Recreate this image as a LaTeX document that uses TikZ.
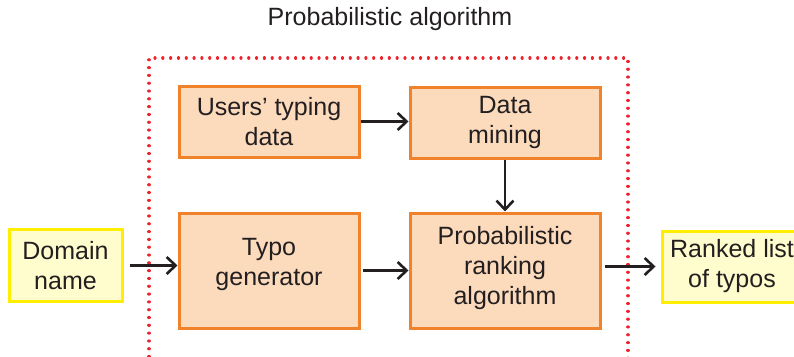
\documentclass[tikz,border=0pt]{standalone}
\usepackage{fontspec}
\setmainfont{Liberation Sans}
\usetikzlibrary{arrows.meta}
\definecolor{boxfill}{RGB}{252,218,188}
\definecolor{boxline}{RGB}{241,130,44}
\definecolor{iofill}{RGB}{255,252,206}
\definecolor{ioline}{RGB}{255,238,0}
\definecolor{dotred}{RGB}{238,34,44}
\definecolor{ink}{RGB}{35,31,32}
\tikzset{
  procbox/.style={draw=boxline, fill=boxfill, line width=3pt, inner sep=0pt,
    align=center, font=\fontsize{25}{30}\selectfont, text=ink},
  iobox/.style={draw=ioline, fill=iofill, line width=3pt, inner sep=0pt,
    align=center, font=\fontsize{25}{30}\selectfont, text=ink},
  flow/.style={draw=ink, line width=2.6pt, -{Straight Barb[length=9pt,width=17pt,line width=2.6pt]}},
}
\begin{document}
\begin{tikzpicture}[x=1pt,y=-1pt]
\useasboundingbox (0,0) rectangle (794,356);
\clip (0,0) rectangle (794,356);

% title and the dotted frame of the probabilistic part
\node[font=\fontsize{25}{30}\selectfont, text=ink] (title) at (390,19) {Probabilistic algorithm};
\draw[dotred, line width=3.2pt, line cap=round, dash pattern=on 0.01pt off 7.8pt]
  (149,380) -- (149,58) -- (628,58) -- (628,380);

% process boxes
\node[procbox, minimum width=180pt, minimum height=71pt] (users) at (269,121.5) {Users’ typing\\data};
\node[procbox, minimum width=190pt, minimum height=71pt] (mining) at (505,122.5) {Data\\mining};
\node[procbox, minimum width=180pt, minimum height=115pt, text depth=18pt] (typo) at (269,270.5) {Typo\\generator};
\node[procbox, minimum width=190pt, minimum height=115pt, text depth=11pt] (rank) at (505,270.5) {Probabilistic\\ranking\\algorithm};

% input and output
\node[iobox, minimum width=113pt, minimum height=72pt] (domain) at (65.5,265.5) {Domain\\name};
\node[iobox, minimum width=140pt, minimum height=71pt] (ranked) at (732,266.5) {Ranked list\\of typos};

% connectors
\draw[flow] (users.east) -- (mining.west |- users.east);
\draw[flow] (mining.south) -- (rank.north);
\draw[flow, shorten <=6pt] (domain.east) -- (typo.west |- domain.east);
\draw[flow] ([xshift=2pt]typo.east) -- (rank.west |- typo.east);
\draw[flow, shorten <=3pt, shorten >=5pt] (rank.east |- ranked.west) -- (ranked.west);
\end{tikzpicture}
\end{document}
